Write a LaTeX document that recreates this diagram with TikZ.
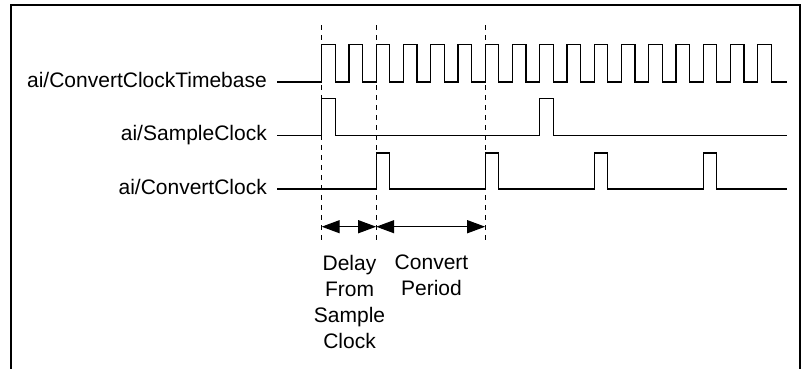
\documentclass[tikz,border=0pt]{standalone}
\usepackage{fontspec}
\setmainfont{Liberation Sans}
\usetikzlibrary{arrows.meta}

\begin{document}
\begin{tikzpicture}[x=1pt, y=-1pt,
  signal/.style={line width=1.3pt},
  guide/.style={line width=1.2pt, dash pattern=on 5pt off 5pt},
  span/.style={line width=1.2pt, {Triangle[length=18pt,width=13pt]}-{Triangle[length=18pt,width=13pt]}},
  lbl/.style={anchor=base east, inner sep=0pt, font=\fontsize{21}{26}\selectfont},
  note/.style={anchor=north, inner sep=0pt, align=center, font=\fontsize{21}{26}\selectfont}]
\useasboundingbox (0,0) rectangle (802,368);
\draw[line width=2pt] (11,372) -- (11,5) -- (800,5) -- (800,372);

\node[lbl] (tb) at (267,87) {ai/ConvertClockTimebase};
\node[lbl] (sc) at (267,140.5) {ai/SampleClock};
\node[lbl] (cc) at (267,194) {ai/ConvertClock};

\draw[signal] (277,82) \foreach \k in {0,...,16}{ -- ({321.7+27.25*\k},82) -- ++(0,-37.5) -- ++(13.6,0) -- ++(0,37.5)} -- (787,82);
\draw[signal] (277,135.7) \foreach \k in {0,8}{ -- ({321.7+27.25*\k},135.7) -- ++(0,-37.4) -- ++(13.6,0) -- ++(0,37.4)} -- (787,135.7);
\draw[signal] (277,189) \foreach \k in {2,6,10,14}{ -- ({321.7+27.25*\k},189) -- ++(0,-36) -- ++(13.6,0) -- ++(0,36)} -- (787,189);

\foreach \k/\n in {0/g0,2/g1,6/g2}{
  \coordinate (\n) at ({321.7+27.25*\k},226.7);
  \draw[guide] ({321.7+27.25*\k},25) -- ({321.7+27.25*\k},243);
}
\draw[span] (g0) -- (g1);
\draw[span] (g1) -- (g2);

\node[note] (dly) at (349.5,254.7) {Delay\\From\\Sample\\Clock};
\node[note] (cvp) at (431.5,254.7) {Convert\\Period};
\end{tikzpicture}
\end{document}
